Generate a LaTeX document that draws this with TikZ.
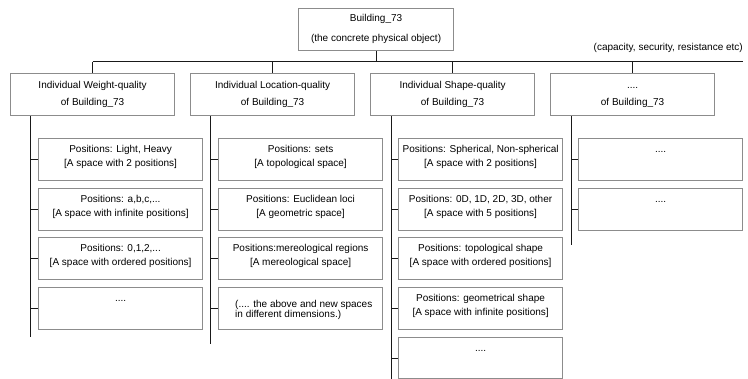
\documentclass[tikz,border=0pt]{standalone}
\usepackage{fontspec}
\setmainfont{Liberation Sans}
\newcommand\fst{\rule{0pt}{7.6pt}}
\begin{document}
\begin{tikzpicture}[x=1pt,y=-1pt,
  box/.style={draw=black!45,line width=1.2pt,fill=white,minimum width=164pt,minimum height=42pt,inner sep=0pt,anchor=north west},
  topbox/.style={box,minimum width=155pt},
  txt/.style={font=\fontsize{10}{14}\selectfont,align=center,inner sep=0pt,anchor=north},
  htxt/.style={txt,font=\fontsize{10}{17}\selectfont},
  ttxt/.style={txt,font=\fontsize{10}{20}\selectfont},
  conn/.style={draw=black!90,line width=1pt}]
\useasboundingbox (0,0) rectangle (748,379);

% top
\node[topbox] (top) at (298,8) {};
\node[ttxt] (topt) at ([yshift=-6pt]top.north) {\fst Building\_73\\(the concrete physical object)};

% second level
\node[box] (Q1) at (10,73) {};
\node[box] (Q2) at (190,73) {};
\node[box] (Q3) at (370,73) {};
\node[box] (Q4) at (550,73) {};
\node[htxt] (Q1t) at ([yshift=-7.3pt]Q1.north) {\fst Individual Weight-quality\\of Building\_73};
\node[htxt] (Q2t) at ([yshift=-7.3pt]Q2.north) {\fst Individual Location-quality\\of Building\_73};
\node[htxt] (Q3t) at ([yshift=-7.3pt]Q3.north) {\fst Individual Shape-quality\\of Building\_73};
\node[htxt] (Q4t) at ([yshift=-7.3pt]Q4.north) {\fst ....\\of Building\_73};

\node[font=\fontsize{10}{12}\selectfont,inner sep=0pt,anchor=base east] (cap) at (743,51) {(capacity, security, resistance etc)};

% bus
\coordinate (busE) at (743,62);
\draw[conn] (top.south) -- (top.south |- busE);
\draw[conn] (Q1.north |- busE) -- (busE);
\foreach \q in {Q1,Q2,Q3,Q4} \draw[conn] (\q.north |- busE) -- (\q.north);

% spines
\coordinate (s1) at (30,337);
\coordinate (s2) at (210,344);
\coordinate (s3) at (391,379);
\coordinate (s4) at (571,245);
\draw[conn] (Q1.south -| s1) -- (s1);
\draw[conn] (Q2.south -| s2) -- (s2);
\draw[conn] (Q3.south -| s3) -- (s3);
\draw[conn] (Q4.south -| s4) -- (s4);

% column 1
\node[box] (A1) at (38,138) {};
\node[box] (A2) at (38,188) {};
\node[box] (A3) at (38,237) {};
\node[box] (A4) at (38,287) {};
\node[txt] (A1t) at ([yshift=-7pt]A1.north) {\fst Positions: Light, Heavy\\{[A space with 2 positions]}};
\node[txt] (A2t) at ([yshift=-7pt]A2.north) {\fst Positions: a,b,c,...\\{[A space with infinite positions]}};
\node[txt] (A3t) at ([yshift=-7pt]A3.north) {\fst Positions: 0,1,2,...\\{[A space with ordered positions]}};
\node[txt] (A4t) at ([yshift=-7pt]A4.north) {\fst ....};

% column 2
\node[box] (B1) at (218,138) {};
\node[box] (B2) at (218,188) {};
\node[box] (B3) at (218,237) {};
\node[box] (B4) at (218,287) {};
\node[txt] (B1t) at ([yshift=-7pt]B1.north) {\fst Positions: sets\\{[A topological space]}};
\node[txt] (B2t) at ([yshift=-7pt]B2.north) {\fst Positions: Euclidean loci\\{[A geometric space]}};
\node[txt] (B3t) at ([yshift=-7pt]B3.north) {\fst Positions:mereological regions\\{[A mereological space]}};
\node[font=\fontsize{10}{9.5}\selectfont,align=left,inner sep=0pt,anchor=north west] (B4t) at ([xshift=17pt,yshift=-13pt]B4.north west) {\fst(.... the above and new spaces\\in different dimensions.)};

% column 3
\node[box] (C1) at (398,138) {};
\node[box] (C2) at (398,188) {};
\node[box] (C3) at (398,237) {};
\node[box] (C4) at (398,287) {};
\node[box,minimum height=41pt] (C5) at (398,337) {};
\node[txt] (C1t) at ([yshift=-7pt]C1.north) {\fst Positions: Spherical, Non-spherical\\{[A space with 2 positions]}};
\node[txt] (C2t) at ([yshift=-7pt]C2.north) {\fst Positions: 0D, 1D, 2D, 3D, other\\{[A space with 5 positions]}};
\node[txt] (C3t) at ([yshift=-7pt]C3.north) {\fst Positions: topological shape\\{[A space with ordered positions]}};
\node[txt] (C4t) at ([yshift=-7pt]C4.north) {\fst Positions: geometrical shape\\{[A space with infinite positions]}};
\node[txt] (C5t) at ([yshift=-7pt]C5.north) {\fst ....};

% column 4
\node[box] (D1) at (578,138) {};
\node[box] (D2) at (578,188) {};
\node[txt] (D1t) at ([yshift=-7pt]D1.north) {\fst ....};
\node[txt] (D2t) at ([yshift=-7pt]D2.north) {\fst ....};

% ticks
\foreach \b in {A1,A2,A3,A4} \draw[conn] (\b.west -| s1) -- (\b.west);
\foreach \b in {B1,B2,B3,B4} \draw[conn] (\b.west -| s2) -- (\b.west);
\foreach \b in {C1,C2,C3,C4,C5} \draw[conn] (\b.west -| s3) -- (\b.west);
\foreach \b in {D1,D2} \draw[conn] (\b.west -| s4) -- (\b.west);
\end{tikzpicture}
\end{document}
